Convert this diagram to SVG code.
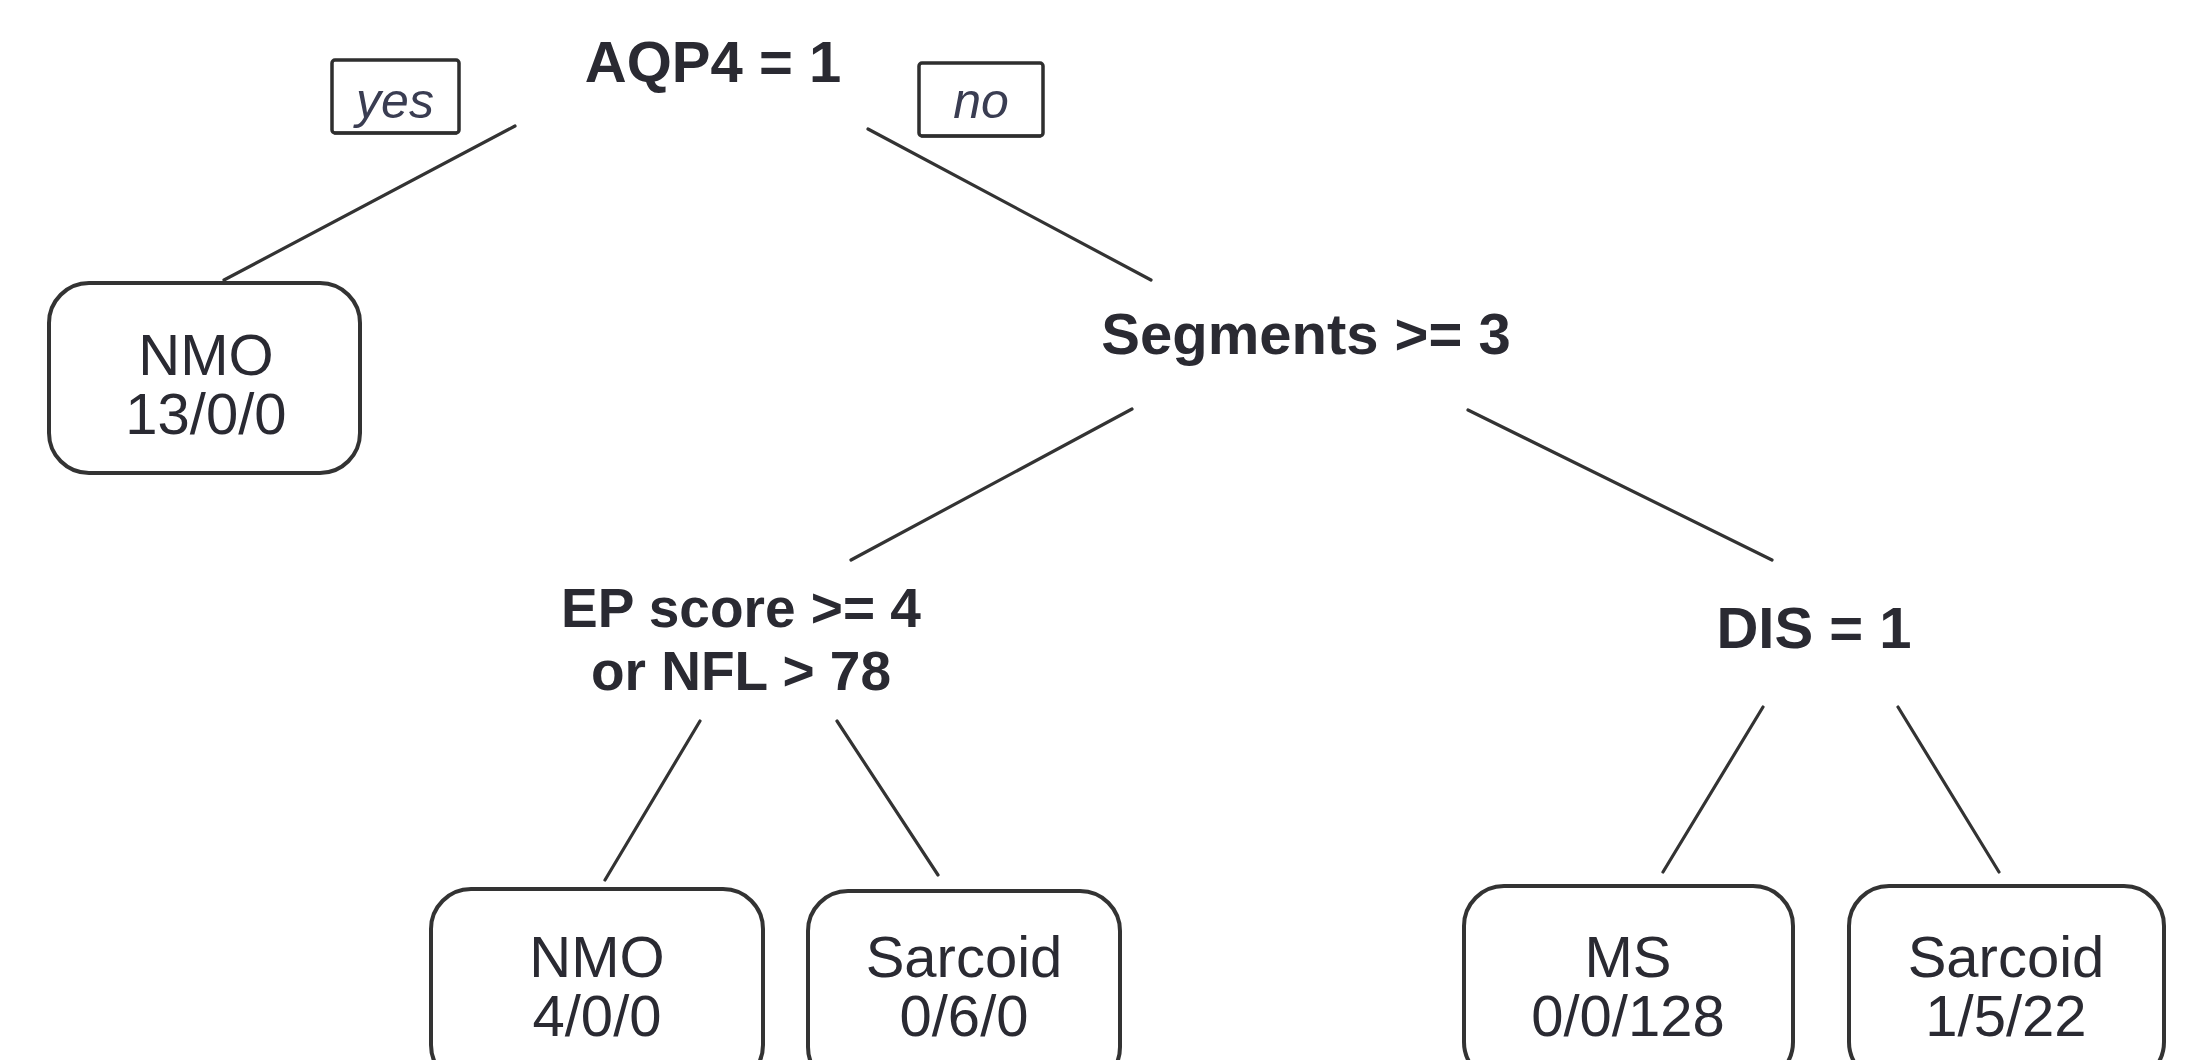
<svg xmlns="http://www.w3.org/2000/svg" width="2196" height="1060" viewBox="0 0 2196 1060">
<style>
.split{font-family:"Liberation Sans",Arial,sans-serif;font-weight:bold;font-size:58px;fill:#2a2a32;text-anchor:middle}
.ep{font-size:55px}
.leaf{font-family:"Liberation Sans",Arial,sans-serif;font-size:58px;fill:#2a2a32;text-anchor:middle}
.lbl{font-family:"Liberation Sans",Arial,sans-serif;font-style:italic;font-size:50px;fill:#3a3d52;text-anchor:middle}
.box{fill:#fff;stroke:#333;stroke-width:4}
.tag{fill:#fff;stroke:#2e2e2e;stroke-width:3.5}
.edge{stroke:#333;stroke-width:3.2;fill:none;stroke-linecap:round}
</style>
<rect width="2196" height="1060" fill="#fff"/>
<g id="connectors">
<line class="edge" x1="515" y1="126" x2="224" y2="280"/>
<line class="edge" x1="868" y1="129" x2="1151" y2="280"/>
<line class="edge" x1="1132" y1="409" x2="851" y2="560"/>
<line class="edge" x1="1468" y1="410" x2="1772" y2="560"/>
<line class="edge" x1="700" y1="721" x2="605" y2="880"/>
<line class="edge" x1="837" y1="721" x2="938" y2="875"/>
<line class="edge" x1="1763" y1="707" x2="1663" y2="872"/>
<line class="edge" x1="1898" y1="707" x2="1999" y2="872"/>
</g>
<g id="label-yes">
<rect class="tag" x="332" y="60" width="127" height="73" rx="3"/>
<line x1="334" y1="133" x2="457" y2="133" stroke="#2e2e2e" stroke-width="3"/>
<text class="lbl" x="395" y="118">yes</text>
</g>
<g id="label-no">
<rect class="tag" x="919" y="63" width="124" height="73" rx="3"/>
<line x1="921" y1="136" x2="1041" y2="136" stroke="#2e2e2e" stroke-width="3"/>
<text class="lbl" x="981" y="118">no</text>
</g>
<g id="node-aqp4">
<text class="split" x="713" y="82">AQP4 = 1</text>
</g>
<g id="node-segments">
<text class="split" x="1306" y="354">Segments &gt;= 3</text>
</g>
<g id="node-ep">
<text class="split ep" x="741" y="627">EP score &gt;= 4</text>
<text class="split ep" x="741" y="690">or NFL &gt; 78</text>
</g>
<g id="node-dis">
<text class="split" x="1814" y="648">DIS = 1</text>
</g>
<g id="leaf-nmo1">
<rect class="box" x="49" y="283" width="311" height="190" rx="40"/>
<text class="leaf" x="206" y="375">NMO</text>
<text class="leaf" x="206" y="434">13/0/0</text>
</g>
<g id="leaf-nmo2">
<rect class="box" x="431" y="889" width="332" height="196" rx="40"/>
<text class="leaf" x="597" y="977">NMO</text>
<text class="leaf" x="597" y="1036">4/0/0</text>
</g>
<g id="leaf-sarcoid1">
<rect class="box" x="808" y="891" width="312" height="196" rx="40"/>
<text class="leaf" x="964" y="977">Sarcoid</text>
<text class="leaf" x="964" y="1036">0/6/0</text>
</g>
<g id="leaf-ms">
<rect class="box" x="1464" y="886" width="329" height="196" rx="40"/>
<text class="leaf" x="1628" y="977">MS</text>
<text class="leaf" x="1628" y="1036">0/0/128</text>
</g>
<g id="leaf-sarcoid2">
<rect class="box" x="1849" y="886" width="315" height="196" rx="40"/>
<text class="leaf" x="2006" y="977">Sarcoid</text>
<text class="leaf" x="2006" y="1036">1/5/22</text>
</g>
</svg>
